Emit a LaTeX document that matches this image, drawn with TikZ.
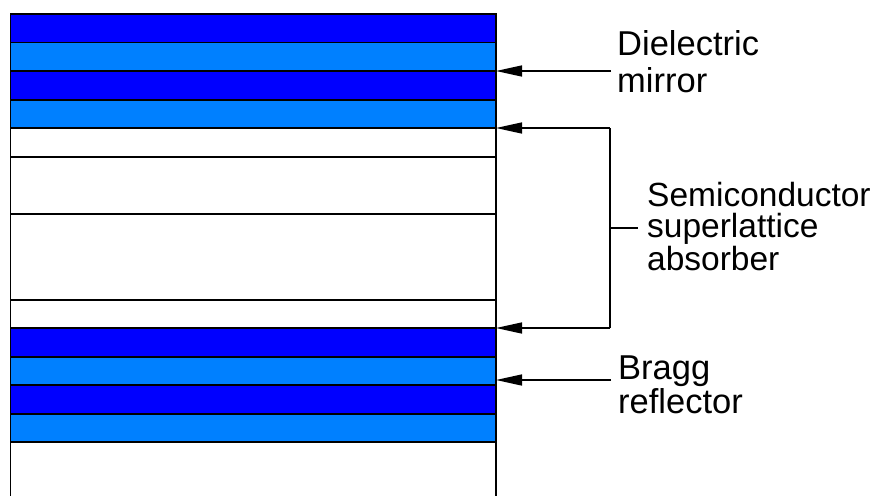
\documentclass[tikz,border=0pt]{standalone}
\usepackage{fontspec}
\setmainfont{Liberation Sans}
\usetikzlibrary{arrows.meta}
\definecolor{darkb}{RGB}{0,0,255}
\definecolor{lightb}{RGB}{0,128,255}
\begin{document}
\begin{tikzpicture}[x=1pt,y=-1pt,
  layer/.style={draw=black,line width=1.5pt,rectangle,anchor=north west,inner sep=0pt,outer sep=0pt,minimum width=485.5pt},
  arr/.style={line width=1.5pt,-{Triangle[length=26pt,width=11pt]}},
  conn/.style={line width=1.5pt},
  lbl/.style={anchor=base west,inner sep=0pt,font=\fontsize{34.5}{34.5}\selectfont},
  lbls/.style={anchor=base west,inner sep=0pt,align=left,font=\fontsize{33.5}{31}\selectfont}]
\useasboundingbox (0,0) rectangle (882,495);
% layers
\node[layer,fill=darkb,minimum height=28.5pt] (L1) at (10.5,14) {};
\node[layer,fill=lightb,minimum height=28.5pt] (L2) at (10.5,42.5) {};
\node[layer,fill=darkb,minimum height=29pt] (L3) at (10.5,71) {};
\node[layer,fill=lightb,minimum height=28pt] (L4) at (10.5,100) {};
\node[layer,fill=white,minimum height=29pt] (L5) at (10.5,128) {};
\node[layer,fill=white,minimum height=57pt] (L6) at (10.5,157) {};
\node[layer,fill=white,minimum height=86pt] (L7) at (10.5,214) {};
\node[layer,fill=white,minimum height=28pt] (L8) at (10.5,300) {};
\node[layer,fill=darkb,minimum height=29pt] (L9) at (10.5,328) {};
\node[layer,fill=lightb,minimum height=28pt] (L10) at (10.5,357) {};
\node[layer,fill=darkb,minimum height=29pt] (L11) at (10.5,385) {};
\node[layer,fill=lightb,minimum height=28pt] (L12) at (10.5,414) {};
% open bottom layer
\coordinate (bl) at (10.5,496);
\coordinate (br) at (496,496);
\draw[conn] (L12.south west) -- (bl);
\draw[conn] (L12.south east) -- (br);
% labels
\node[lbl] (d1) at (617,56) {Dielectric};
\node[lbl] (d2) at (617,92) {mirror};
\node[lbls] (s1) at (647,270) {Semiconductor\\superlattice\\absorber};
\node[lbl] (b1) at (618,379) {Bragg};
\node[lbl] (b2) at (618,413) {reflector};
% connectors
\coordinate (da) at (611,71);
\draw[arr] (da) -- (L3.north east);
\coordinate (bt) at (610,128);
\coordinate (bb) at (610,328);
\coordinate (bm) at (610,228);
\coordinate (bmt) at (638,228);
\draw[conn] (bt) -- (bb);
\draw[arr] (bt) -- (L5.north east);
\draw[arr] (bb) -- (L9.north east);
\draw[conn] (bm) -- (bmt);
\coordinate (ba) at (611,380);
\coordinate (bx) at (496,380);
\draw[arr] (ba) -- (bx);
\end{tikzpicture}
\end{document}
